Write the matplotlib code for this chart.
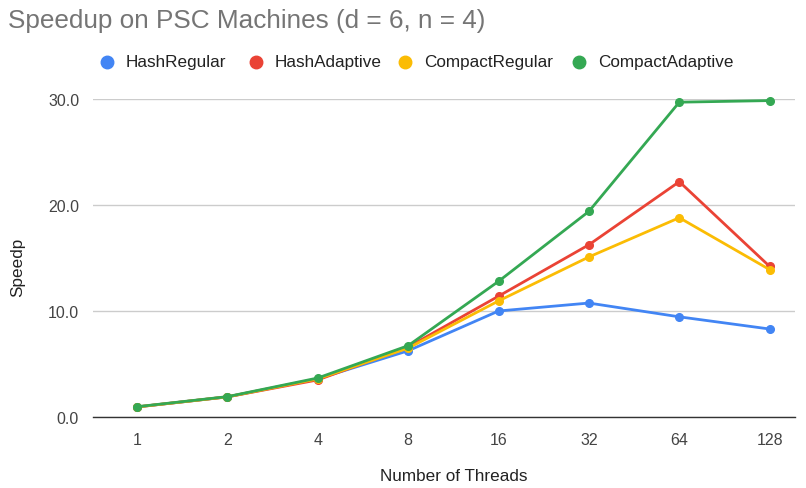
import matplotlib.pyplot as plt
from matplotlib.lines import Line2D

plt.rcParams['font.family'] = ['Liberation Sans', 'DejaVu Sans']

threads = ["1", "2", "4", "8", "16", "32", "64", "128"]
hash_regular = [0.95, 1.9, 3.6, 6.25, 10.0, 10.75, 9.45, 8.3]
hash_adaptive = [0.95, 1.9, 3.5, 6.6, 11.4, 16.25, 22.2, 14.2]
compact_regular = [0.95, 1.9, 3.6, 6.5, 10.95, 15.1, 18.8, 13.9]
compact_adaptive = [0.97, 1.92, 3.68, 6.73, 12.8, 19.4, 29.7, 29.85]

noms = ["HashRegular", "HashAdaptive", "CompactRegular", "CompactAdaptive"]
series = [hash_regular, hash_adaptive, compact_regular, compact_adaptive]
couleurs = ["#4285F4", "#EA4335", "#FBBC04", "#34A853"]

fig = plt.figure(figsize=(8.06, 4.89), dpi=100)
ax = fig.add_axes([93/806, 71/489, 702/806, 318/489])

xs = list(range(len(threads)))
for vals, c in zip(series, couleurs):
    ax.plot(xs, vals, color=c, lw=2, marker="o", ms=5.5, clip_on=False, zorder=3)

ax.set_xlim(-0.487, 7.28)
ax.set_ylim(0, 30)
ax.set_yticks([0, 10, 20, 30])
ax.set_yticklabels(["0.0", "10.0", "20.0", "30.0"])
ax.set_xticks(xs)
ax.set_xticklabels(threads)
ax.tick_params(length=0, labelsize=11.5, colors="#444444")
ax.tick_params(axis="x", pad=11)
ax.tick_params(axis="y", pad=10)
ax.grid(axis="y", color="#cccccc", lw=1)
ax.set_axisbelow(True)
for s in ["top", "right", "left"]:
    ax.spines[s].set_visible(False)
ax.spines["bottom"].set_color("#333333")
ax.spines["bottom"].set_linewidth(1)

# titres des axes
fig.text(18/806, 1 - 267/489, "Speedp", fontsize=12.3, color="#222222",
         ha="center", va="center", rotation=90)
fig.text(454/806, 1 - 477/489, "Number of Threads", fontsize=12.3, color="#222222",
         ha="center", va="center")

fig.text(8/806, 1 - 21/489, "Speedup on PSC Machines (d = 6, n = 4)", fontsize=18.8,
         color="#757575", ha="left", va="center")

# legende en haut
pos_marq = [107, 256, 405, 579]
for nom, c, px in zip(noms, couleurs, pos_marq):
    fig.add_artist(Line2D([px/806], [1 - 63/489], marker="o", ms=9, color=c,
                          transform=fig.transFigure, lw=0))
    fig.text((px + 19)/806, 1 - 63/489, nom, fontsize=12.3, color="#222222",
             ha="left", va="center")

plt.savefig("out.png", dpi=100)
